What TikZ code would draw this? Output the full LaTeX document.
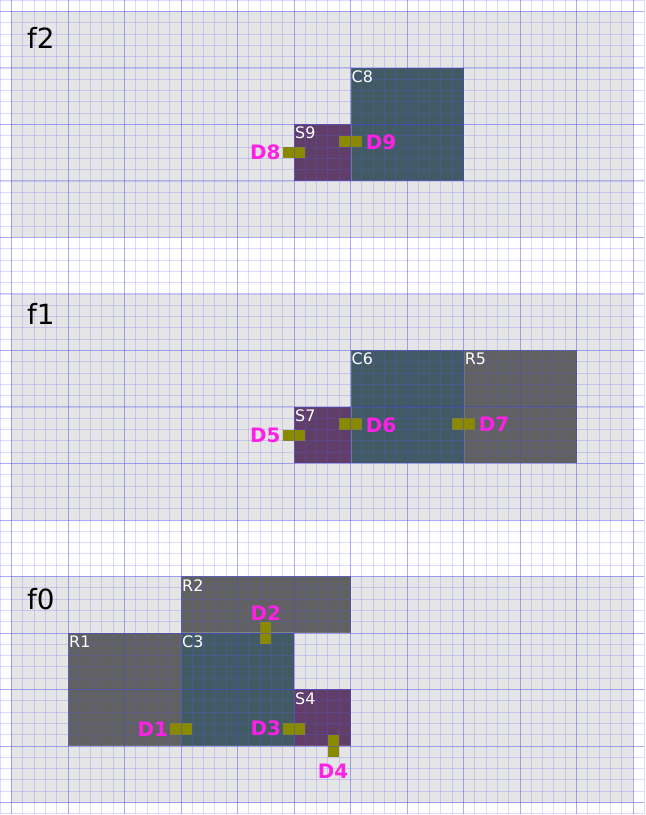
\documentclass[tikz,border=0pt]{standalone}
\usepackage{fontspec}
\setmainfont{DejaVu Sans}
\usetikzlibrary{positioning}
\definecolor{corecol}{RGB}{66,90,100}
\definecolor{staircol}{RGB}{96,62,104}
\definecolor{doorcol}{RGB}{138,138,0}
\definecolor{lblcol}{RGB}{255,32,230}
\definecolor{minorcol}{RGB}{90,90,255}
\definecolor{majorcol}{RGB}{60,60,240}

\begin{document}
\begin{tikzpicture}[
  floorbox/.style = {fill=black!10, draw=none},
  space/.style    = {draw=white, draw opacity=0.12, line width=0.4pt, anchor=south west, inner sep=0pt},
  room/.style     = {space, fill=black!62},
  core/.style     = {space, fill=corecol},
  stair/.style    = {space, fill=staircol},
  door/.style     = {fill=doorcol, draw=none},
  minorgrid/.style = {draw=minorcol, draw opacity=0.22, line width=0.5pt},
  majorgrid/.style = {draw=majorcol, draw opacity=0.3, line width=0.5pt},
  floorlbl/.style = {font=\fontsize{14}{16}\selectfont, black, anchor=north west, inner sep=0pt},
  spacelbl/.style = {font=\fontsize{8}{10}\selectfont, white, anchor=north west, inner sep=0pt},
  doorlbl/.style  = {font=\fontsize{10}{12}\selectfont\bfseries, text=lblcol, inner sep=0pt},
]
\useasboundingbox (-0.2035,-0.2212) rectangle (11.2301,14.2035);

% --- floors --------------------------------------------------------------
\foreach \base in {0,5,10}
  \fill[floorbox] (0,\base) rectangle (11,\base+4);

% --- f2 ------------------------------------------------------------------
\node[core, minimum width=2cm, minimum height=2cm] (C8) at (6,11) {};
\node[stair, minimum width=1cm, minimum height=1cm] (S9) at (5,11) {};

% --- f1 ------------------------------------------------------------------
\node[core, minimum width=2cm, minimum height=2cm] (C6) at (6,6) {};
\node[room, minimum width=2cm, minimum height=2cm] (R5) at (8,6) {};
\node[stair, minimum width=1cm, minimum height=1cm] (S7) at (5,6) {};

% --- f0 ------------------------------------------------------------------
\node[room, minimum width=3cm, minimum height=1cm] (R2) at (3,3) {};
\node[room, minimum width=2cm, minimum height=2cm] (R1) at (1,1) {};
\node[core, minimum width=2cm, minimum height=2cm] (C3) at (3,1) {};
\node[stair, minimum width=1cm, minimum height=1cm] (S4) at (5,1) {};

% --- doors ---------------------------------------------------------------
\fill[door] (4.8,11.4) rectangle (5.2,11.6);
\fill[door] (5.8,11.6) rectangle (6.2,11.8);
\fill[door] (4.8,6.4) rectangle (5.2,6.6);
\fill[door] (5.8,6.6) rectangle (6.2,6.8);
\fill[door] (7.8,6.6) rectangle (8.2,6.8);
\fill[door] (2.8,1.2) rectangle (3.2,1.4);
\fill[door] (4.8,1.2) rectangle (5.2,1.4);
\fill[door] (4.4,2.8) rectangle (4.6,3.2);
\fill[door] (5.6,0.8) rectangle (5.8,1.2);

% --- grid ----------------------------------------------------------------
\foreach \i in {-1,...,56}
  \draw[minorgrid] (\i*0.2,-0.2) -- (\i*0.2,14.2);
\foreach \j in {-1,...,71}
  \draw[minorgrid] (-0.2,\j*0.2) -- (11.2,\j*0.2);
\foreach \i in {0,...,11}
  \draw[majorgrid] (\i,-0.2) -- (\i,14.2);
\foreach \j in {0,...,14}
  \draw[majorgrid] (-0.2,\j) -- (11.2,\j);

% --- labels --------------------------------------------------------------
\node[floorlbl] (f2) at (0.27,13.725) {f2};
\node[floorlbl] (f1) at (0.27,8.835) {f1};
\node[floorlbl] (f0) at (0.27,3.79) {f0};

\node[spacelbl] at ([shift={(0.015,-0.055)}]C8.north west) {C8};
\node[spacelbl] at ([shift={(0.015,-0.055)}]S9.north west) {S9};
\node[spacelbl] at ([shift={(0.015,-0.055)}]C6.north west) {C6};
\node[spacelbl] at ([shift={(0.015,-0.055)}]R5.north west) {R5};
\node[spacelbl] at ([shift={(0.015,-0.055)}]S7.north west) {S7};
\node[spacelbl] at ([shift={(0.015,-0.055)}]R2.north west) {R2};
\node[spacelbl] at ([shift={(0.015,-0.055)}]R1.north west) {R1};
\node[spacelbl] at ([shift={(0.015,-0.055)}]C3.north west) {C3};
\node[spacelbl] at ([shift={(0.015,-0.055)}]S4.north west) {S4};

\node[doorlbl] (D8) at (4.49,11.5) {D8};
\node[doorlbl] (D9) at (6.54,11.69) {D9};
\node[doorlbl] (D5) at (4.49,6.495) {D5};
\node[doorlbl] (D6) at (6.54,6.675) {D6};
\node[doorlbl] (D7) at (8.54,6.695) {D7};
\node[doorlbl] (D2) at (4.5,3.36) {D2};
\node[doorlbl] (D1) at (2.5,1.29) {D1};
\node[doorlbl] (D3) at (4.5,1.31) {D3};
\node[doorlbl] (D4) at (5.69,0.55) {D4};
\end{tikzpicture}
\end{document}
